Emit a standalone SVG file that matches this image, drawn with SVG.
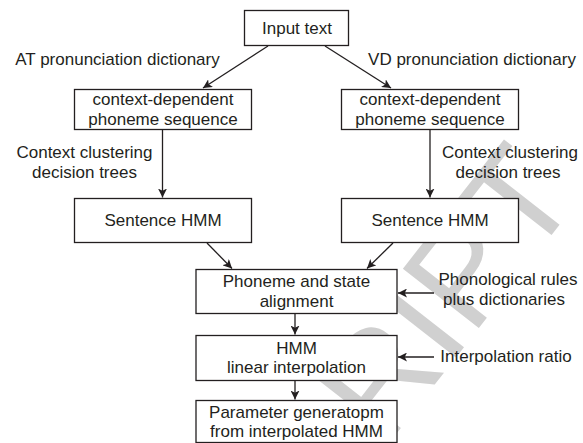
<svg xmlns="http://www.w3.org/2000/svg" width="583" height="443" viewBox="0 0 583 443">
<style>
  .box { fill: #ffffff; stroke: #231f20; stroke-width: 1.3; }
  .t { font-family: "Liberation Sans", Arial, sans-serif; font-size: 17px; fill: #231f20; text-anchor: middle; }
  .c { stroke: #231f20; stroke-width: 1.3; fill: none; marker-end: url(#ah); }
  .wm { font-family: "Liberation Sans", Arial, sans-serif; font-size: 140px; fill: #d0d0d0; text-anchor: end; }
</style>
<defs>
  <marker id="ah" viewBox="0 0 10 10" refX="10" refY="5" markerWidth="9" markerHeight="9" markerUnits="userSpaceOnUse" orient="auto">
    <path d="M0,0 L10,5 L0,10 L2.5,5 z" fill="#231f20"/>
  </marker>
</defs>
<rect x="0" y="0" width="583" height="443" fill="#ffffff"/>
<g id="watermark">
  <text class="wm" transform="translate(582,196) rotate(-52)">SCRIPT</text>
</g>
<g id="connectors">
  <line class="c" x1="268" y1="46" x2="203" y2="88"/>
  <line class="c" x1="325" y1="46" x2="391" y2="88"/>
  <line class="c" x1="162.5" y1="129.5" x2="162.5" y2="197.5"/>
  <line class="c" x1="430" y1="129.5" x2="430" y2="197.5"/>
  <line class="c" x1="207" y1="243" x2="232" y2="268.5"/>
  <line class="c" x1="393" y1="243" x2="367" y2="268.5"/>
  <line class="c" x1="295" y1="313.5" x2="295" y2="334.5"/>
  <line class="c" x1="295" y1="380.5" x2="295" y2="399.5"/>
  <line class="c" x1="434" y1="293" x2="398" y2="293"/>
  <line class="c" x1="434" y1="357" x2="398" y2="357"/>
</g>
<g id="input">
  <rect class="box" x="244.5" y="10.5" width="104" height="35"/>
  <text class="t" x="297" y="34">Input text</text>
</g>
<g id="label-at">
  <text class="t" x="117.5" y="65">AT pronunciation dictionary</text>
</g>
<g id="label-vd">
  <text class="t" x="472" y="65">VD pronunciation dictionary</text>
</g>
<g id="ctx-left">
  <rect class="box" x="74.5" y="89.5" width="177" height="40"/>
  <text class="t" x="163" y="105">context-dependent</text>
  <text class="t" x="163" y="124.5">phoneme sequence</text>
</g>
<g id="ctx-right">
  <rect class="box" x="341.5" y="89.5" width="177" height="40"/>
  <text class="t" x="430" y="105">context-dependent</text>
  <text class="t" x="430" y="124.5">phoneme sequence</text>
</g>
<g id="label-ccl">
  <text class="t" x="84.5" y="158">Context clustering</text>
  <text class="t" x="84.5" y="178">decision trees</text>
</g>
<g id="label-ccr">
  <text class="t" x="510" y="158">Context clustering</text>
  <text class="t" x="508" y="178">decision trees</text>
</g>
<g id="shmm-left">
  <rect class="box" x="74.5" y="198.5" width="177" height="44"/>
  <text class="t" x="163" y="226">Sentence HMM</text>
</g>
<g id="shmm-right">
  <rect class="box" x="341.5" y="198.5" width="177" height="44"/>
  <text class="t" x="430" y="226">Sentence HMM</text>
</g>
<g id="alignment">
  <rect class="box" x="196" y="269.5" width="201" height="44"/>
  <text class="t" x="296.5" y="286.5">Phoneme and state</text>
  <text class="t" x="296.5" y="306.5">alignment</text>
</g>
<g id="label-phon">
  <text class="t" x="508" y="285">Phonological rules</text>
  <text class="t" x="504" y="305">plus dictionaries</text>
</g>
<g id="interp">
  <rect class="box" x="196" y="335.5" width="201" height="45"/>
  <text class="t" x="296.5" y="353.5">HMM</text>
  <text class="t" x="296.5" y="373">linear interpolation</text>
</g>
<g id="label-ratio">
  <text class="t" x="506" y="362">Interpolation ratio</text>
</g>
<g id="paramgen">
  <rect class="box" x="196" y="400.5" width="201" height="42"/>
  <text class="t" x="296.5" y="418">Parameter generatopm</text>
  <text class="t" x="296.5" y="437">from interpolated HMM</text>
</g>
</svg>
